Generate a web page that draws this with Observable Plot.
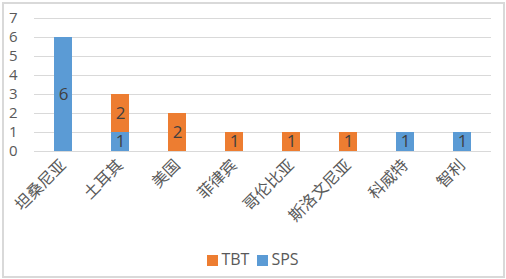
<!DOCTYPE html>
<html><head><meta charset="utf-8">
<script src="https://cdn.jsdelivr.net/npm/d3@7"></script>
<script src="https://cdn.jsdelivr.net/npm/@observablehq/plot@0.6"></script>
<style>
body{margin:0;background:#fff;}
#wrap{position:relative;width:506px;height:279px;overflow:hidden;font-family:"Open Sans","Noto Sans CJK SC",sans-serif;}
#frame{position:absolute;left:2px;top:2px;width:499px;height:272px;border:2px solid #d9d9d9;box-sizing:content-box;}
#chart{position:absolute;left:0;top:0;}
#legend{position:absolute;left:0;width:506px;top:248px;text-align:center;font-size:16px;color:#595959;}
.sw{display:inline-block;width:11px;height:11px;margin-right:3px;vertical-align:-1px;}
.item{margin:0 4px;}
</style></head>
<body><div id="wrap"><div id="frame"></div><div id="chart"></div><div id="legend"></div></div>
<script>
const countries = ["坦桑尼亚","土耳其","美国","菲律宾","哥伦比亚","斯洛文尼亚","科威特","智利"];
const spsValues = [6,1,0,0,0,0,1,1];
const tbtValues = [0,2,2,1,1,1,0,0];
const seriesNames = ["TBT","SPS"];
const seriesColors = ["#ed7d31","#5b9bd5"];
const yTicks = [0,1,2,3,4,5,6,7];

const rows = [];
countries.forEach((c,i)=>{
  rows.push({country:c, series:"SPS", value:spsValues[i]});
  rows.push({country:c, series:"TBT", value:tbtValues[i]});
});

const plot = Plot.plot({
  width:506, height:246,
  marginLeft:34, marginRight:15, marginTop:18, marginBottom:95,
  style:{fontFamily:'"Open Sans","Noto Sans CJK SC",sans-serif', background:"transparent"},
  x:{domain:countries, paddingInner:0.684, paddingOuter:0.35, label:null},
  y:{domain:[0,7], label:null},
  color:{domain:seriesNames, range:seriesColors},
  marks:[
    Plot.gridY(yTicks,{stroke:"#d9d9d9", strokeOpacity:1, strokeWidth:1}),
    Plot.barY(rows,{x:"country", y:"value", fill:"series"}),
    Plot.text(rows, Plot.stackY({x:"country", y:"value", z:"series", text:d=>d.value>0?String(d.value):"", fill:"#404040", fontSize:17})),
    Plot.ruleY([0],{stroke:"#d9d9d9"}),
    Plot.axisY(yTicks,{tickSize:0, tickPadding:17, fontSize:15, color:"#595959", textAnchor:"end"}),
    Plot.axisX({tickSize:0, tickPadding:11, tickRotate:-45, fontSize:16, color:"#595959", label:null})
  ]
});
document.getElementById("chart").appendChild(plot);

const lg = document.getElementById("legend");
seriesNames.forEach((s,i)=>{
  const span=document.createElement("span");
  span.className="item";
  span.innerHTML=`<span class="sw" style="background:${seriesColors[i]}"></span>${s}`;
  lg.appendChild(span);
});
</script></body></html>
